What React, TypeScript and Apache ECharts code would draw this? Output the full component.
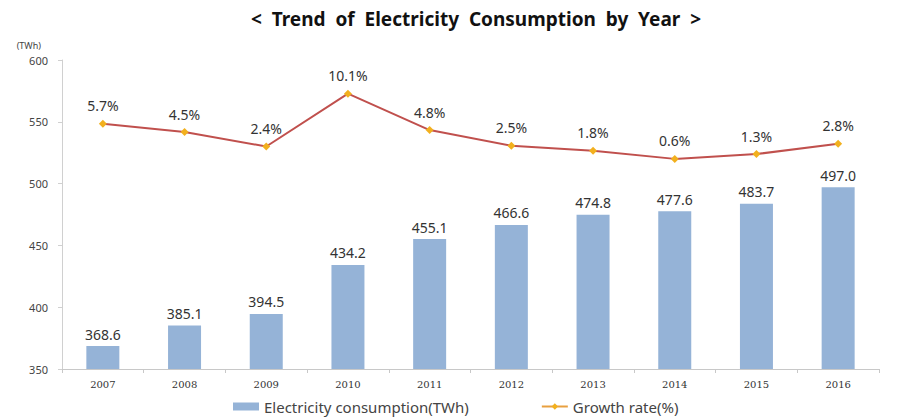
import React, { useEffect, useRef } from "react";
import * as echarts from "echarts";

const years = ["2007", "2008", "2009", "2010", "2011", "2012", "2013", "2014", "2015", "2016"];
const consumption = [368.6, 385.1, 394.5, 434.2, 455.1, 466.6, 474.8, 477.6, 483.7, 497.0];
const growth = [5.7, 4.5, 2.4, 10.1, 4.8, 2.5, 1.8, 0.6, 1.3, 2.8];
const titleText = "<  Trend  of  Electricity  Consumption  by  Year  >";
const barName = "Electricity consumption(TWh)";
const lineName = "Growth rate(%)";

export default function App() {
  const ref = useRef<HTMLDivElement>(null);
  useEffect(() => {
    if (!ref.current) return;
    const chart = echarts.init(ref.current, undefined, { renderer: "svg" });
    const font = "'Noto Sans', 'Open Sans', sans-serif";
    const t = "rgba(0,0,0,0)";
    chart.setOption({
      animation: false,
      textStyle: { fontFamily: font },
      title: {
        text: titleText,
        left: 471,
        top: 4,
        textAlign: "center",
        textStyle: { fontSize: 19, fontWeight: "bold", color: "#111", fontFamily: font },
      },
      legend: {
        bottom: 0,
        left: 228,
        itemGap: 72,
        itemWidth: 26,
        itemHeight: 8,
        textStyle: { fontSize: 15, color: "#444", fontFamily: font },
        data: [
          { name: barName, icon: "rect" },
          { name: lineName, itemStyle: { color: "#F2B01E" }, lineStyle: { color: "#E8A040" } },
        ],
      },
      grid: { show: false, left: 62, right: 23, top: 60, bottom: 50 },
      xAxis: {
        type: "category",
        data: years,
        axisLine: { show: true, onZero: false, lineStyle: { color: "#c8c8c8", width: 1 } },
        axisTick: { show: true, alignWithLabel: false, length: 4, lineStyle: { color: "#c8c8c8", width: 1 } },
        splitLine: { show: false },
        axisLabel: { fontSize: 10, color: "#333", margin: 10, fontFamily: "'DejaVu Serif', serif" },
      },
      yAxis: [
        {
          type: "value",
          min: 350,
          max: 600,
          interval: 50,
          name: "(TWh)",
          nameLocation: "end",
          nameGap: 10,
          nameTextStyle: { fontSize: 9, color: "#444", align: "right", padding: [0, 21, 0, 0] },
          axisLine: { show: true, lineStyle: { color: "#d0d0d0" } },
          axisTick: { show: true, length: 4, lineStyle: { color: "#d0d0d0" } },
          splitLine: { show: false },
          axisLabel: { fontSize: 11, color: "#444", margin: 14 },
        },
        {
          type: "value",
          position: "left",
          min: -30,
          max: 15,
          show: false,
          axisLine: { show: false, onZero: false, lineStyle: { color: t, width: 0 } },
          axisTick: { show: false },
          axisLabel: { show: false },
          splitLine: { show: false },
        },
      ],
      series: [
        {
          name: barName,
          type: "bar",
          data: consumption,
          barWidth: 33,
          itemStyle: { color: "#95B3D7" },
          label: {
            show: true,
            position: "top",
            fontSize: 14,
            color: "#333",
            distance: 5,
            formatter: (p: any) => Number(p.value).toFixed(1),
          },
        },
        {
          name: lineName,
          type: "line",
          yAxisIndex: 1,
          data: growth,
          symbol: "diamond",
          symbolSize: 8,
          lineStyle: { color: "#C0504D", width: 2 },
          itemStyle: { color: "#F2B01E" },
          label: {
            show: true,
            position: "top",
            fontSize: 14,
            color: "#333",
            distance: 7,
            formatter: (p: any) => Number(p.value).toFixed(1) + "%",
          },
        },
      ],
    });
    return () => chart.dispose();
  }, []);
  return (
    <div
      ref={ref}
      style={{ position: "fixed", left: 0, top: 0, width: 902, height: 419, background: "#fff" }}
    />
  );
}
